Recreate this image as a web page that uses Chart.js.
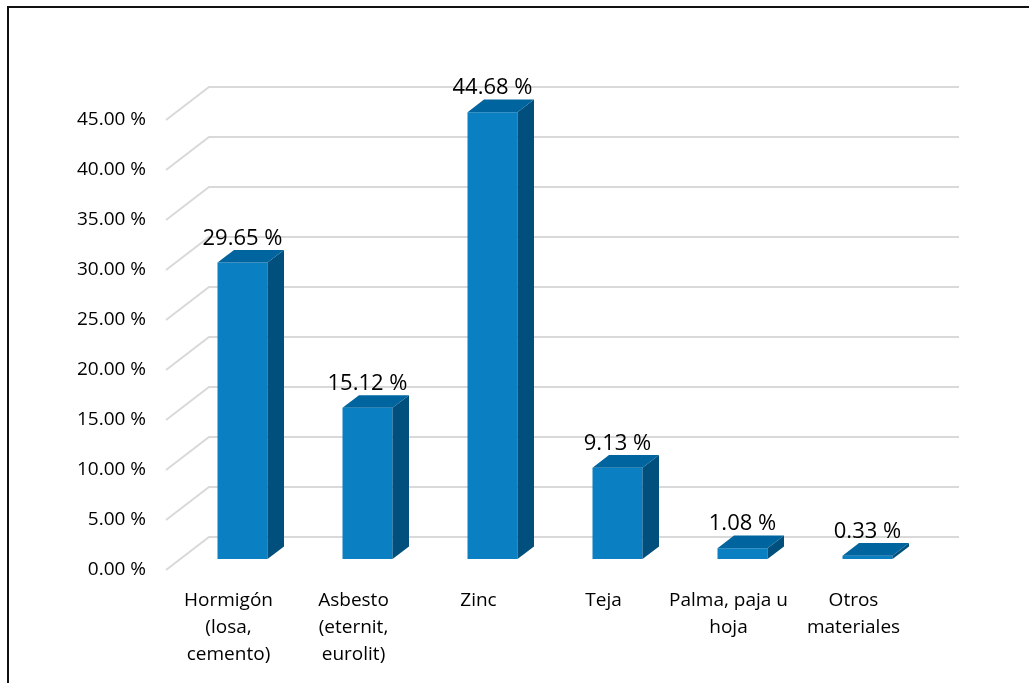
<!DOCTYPE html>
<html>
<head>
<meta charset="utf-8">
<script src="https://cdn.jsdelivr.net/npm/chart.js@4"></script>
<style>
  html, body { margin: 0; padding: 0; background: #fff; }
  #wrap { position: relative; width: 1029px; height: 683px; overflow: hidden; }
  #frame { position: absolute; left: 7px; top: 6px; width: 1100px; height: 800px;
           border-left: 2px solid #111; border-top: 2px solid #111; }
  canvas { position: absolute; left: 0; top: 0; }
</style>
</head>
<body>
<div id="wrap">
  <div id="frame"></div>
  <canvas id="barChart" width="1029" height="683"></canvas>
</div>
<script>
// Roof material shares (%)
const categories = [
  ['Hormigón', '(losa,', 'cemento)'],
  ['Asbesto', '(eternit,', 'eurolit)'],
  ['Zinc'],
  ['Teja'],
  ['Palma, paja u', 'hoja'],
  ['Otros', 'materiales']
];
const shares = [29.65, 15.12, 44.68, 9.13, 1.08, 0.33];
const tickValues = [0, 5, 10, 15, 20, 25, 30, 35, 40, 45];

const FONT = "'Open Sans', sans-serif";
const frontColor = '#0a7fc1';
const topColor = '#00659f';
const sideColor = '#004f7c';

// depth of the bars and the floor/wall
const barDx = 16.5, barDy = -12.6;
const backDx = 29, backDy = -22;    // bar plane -> back wall
const frontDx = -14, frontDy = 11;  // bar plane -> front edge

// draws the back wall grid with its slanted floor lines
const gridPlugin = {
  id: 'grid3d',
  beforeDatasetsDraw(chart) {
    const ctx = chart.ctx;
    const y = chart.scales.y;
    const area = chart.chartArea;
    ctx.save();
    ctx.strokeStyle = '#d9d9d9';
    ctx.lineWidth = 2;
    tickValues.forEach(v => {
      const py = y.getPixelForValue(v);
      const x0 = area.left + frontDx;
      ctx.beginPath();
      ctx.moveTo(x0, py + frontDy);
      ctx.lineTo(area.left + backDx, py + backDy);
      ctx.lineTo(area.right + backDx, py + backDy);
      ctx.stroke();
    });
    ctx.restore();
  }
};

// top and side faces of each bar, plus value labels
const boxPlugin = {
  id: 'box3d',
  afterDatasetsDraw(chart) {
    const ctx = chart.ctx;
    const meta = chart.getDatasetMeta(0);
    ctx.save();
    meta.data.forEach((bar, i) => {
      const left = bar.x - bar.width / 2;
      const right = bar.x + bar.width / 2;
      const top = bar.y;
      const base = bar.base;

      ctx.fillStyle = sideColor;
      ctx.beginPath();
      ctx.moveTo(right, top);
      ctx.lineTo(right + barDx, top + barDy);
      ctx.lineTo(right + barDx, base + barDy);
      ctx.lineTo(right, base);
      ctx.closePath();
      ctx.fill();

      ctx.fillStyle = topColor;
      ctx.beginPath();
      ctx.moveTo(left, top);
      ctx.lineTo(right, top);
      ctx.lineTo(right + barDx, top + barDy);
      ctx.lineTo(left + barDx, top + barDy);
      ctx.closePath();
      ctx.fill();

      ctx.fillStyle = '#000';
      ctx.font = '22px ' + FONT;
      ctx.textAlign = 'center';
      ctx.textBaseline = 'middle';
      ctx.fillText(shares[i].toFixed(2) + ' %', bar.x, top - 24);
    });
    ctx.restore();
  }
};

const ctx = document.getElementById('barChart').getContext('2d');
const myChart = new Chart(ctx, {
  type: 'bar',
  data: {
    labels: categories,
    datasets: [{
      data: shares,
      backgroundColor: frontColor,
      categoryPercentage: 1,
      barPercentage: 0.4
    }]
  },
  options: {
    responsive: false,
    animation: false,
    layout: { padding: { top: 109, right: 99, left: 0, bottom: 0 } },
    plugins: {
      legend: { display: false },
      tooltip: { enabled: false }
    },
    scales: {
      x: {
        grid: { display: false, drawTicks: false },
        border: { display: false },
        ticks: {
          color: '#000',
          font: { family: FONT, size: 19, lineHeight: 1.42 },
          padding: 28,
          labelOffset: -14,
          maxRotation: 0,
          autoSkip: false
        },
        afterFit(scale) { scale.height = 124; }
      },
      y: {
        min: 0,
        max: 45,
        grid: { display: false, drawTicks: false },
        border: { display: false },
        ticks: {
          stepSize: 5,
          color: '#000',
          font: { family: FONT, size: 19 },
          padding: 34,
          labelOffset: 11,
          callback: v => v.toFixed(2) + ' %'
        },
        afterFit(scale) { scale.width = 180; }
      }
    }
  },
  plugins: [gridPlugin, boxPlugin]
});
</script>
</body>
</html>
